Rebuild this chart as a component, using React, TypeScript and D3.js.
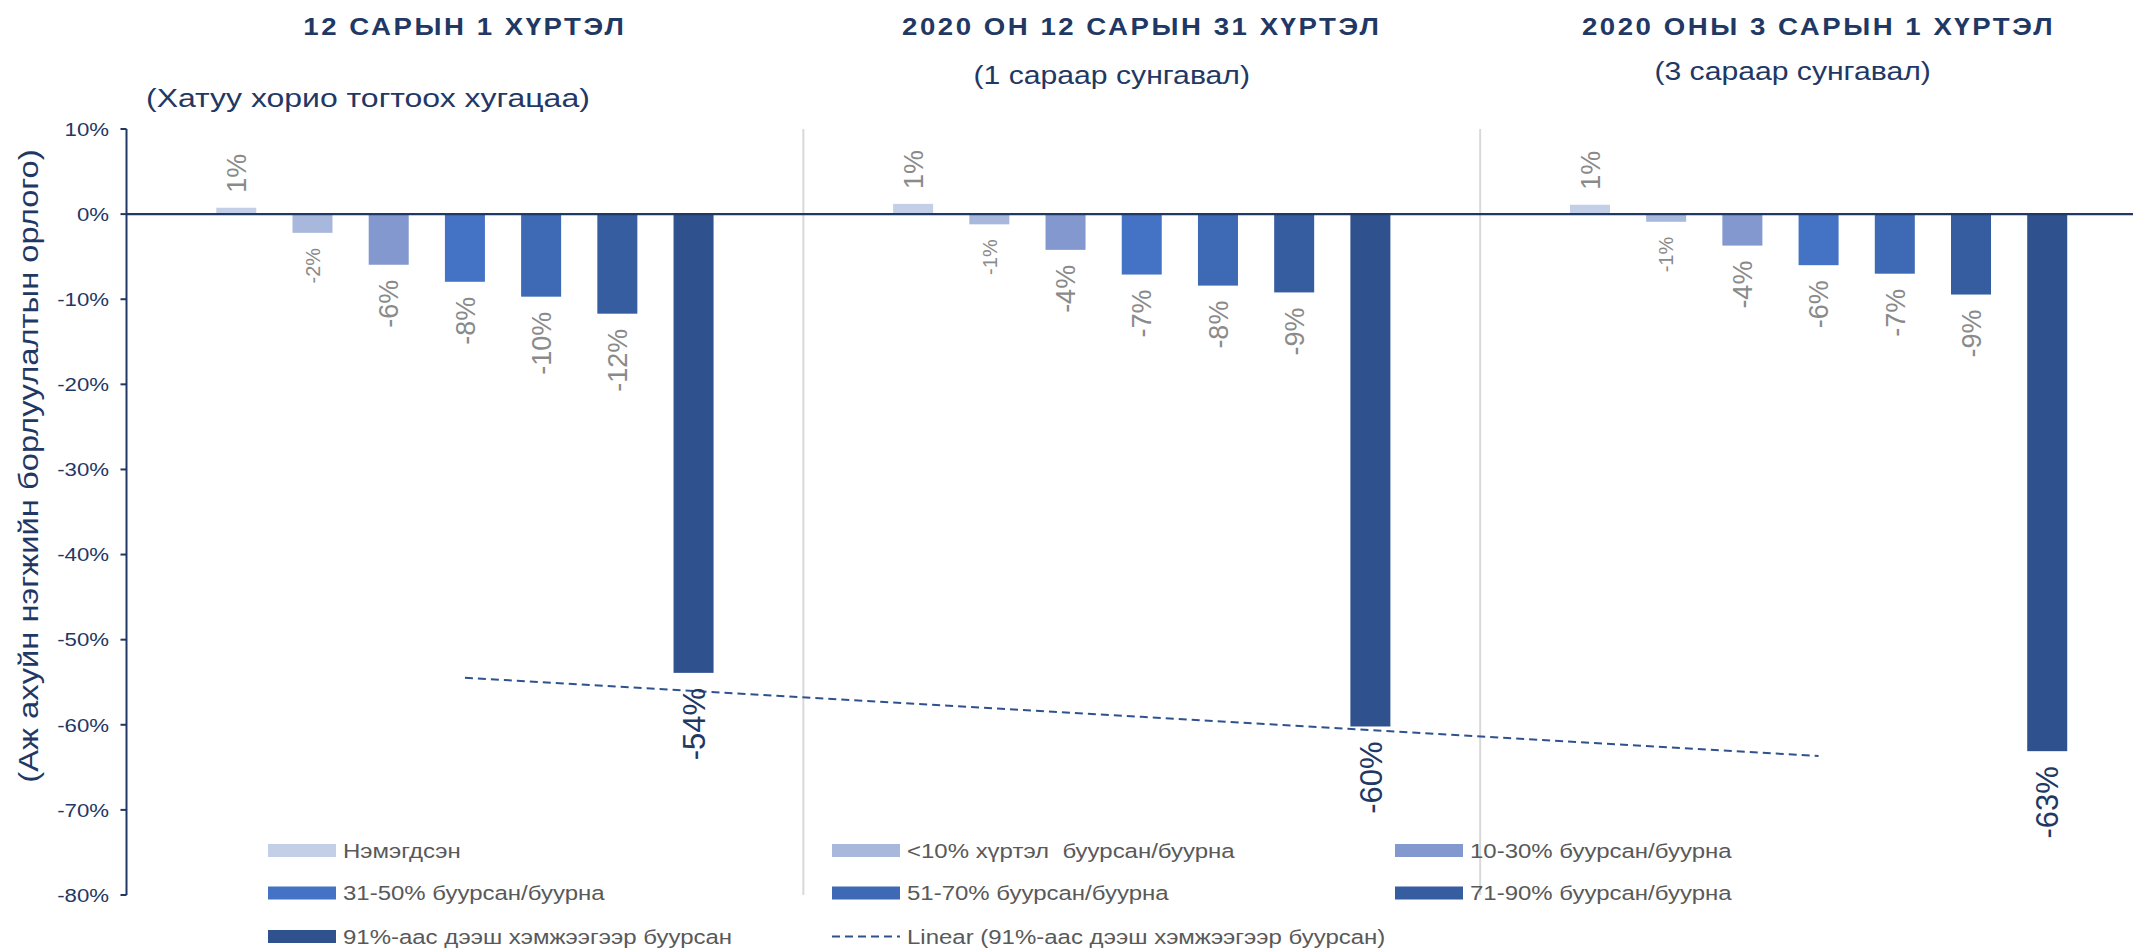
import React from 'react';
import * as d3 from 'd3';

// periods (x categories) and their sub headings
const periods = ['12 САРЫН 1 ХҮРТЭЛ', '2020 ОН 12 САРЫН 31 ХҮРТЭЛ', '2020 ОНЫ 3 САРЫН 1 ХҮРТЭЛ'];
const subtitles = ['(Хатуу хорио тогтоох хугацаа)', '(1 сараар сунгавал)', '(3 сараар сунгавал)'];

// series, one value per period (%)
const seriesNames = [
  'Нэмэгдсэн',
  '<10% хүртэл  буурсан/буурна',
  '10-30% буурсан/буурна',
  '31-50% буурсан/буурна',
  '51-70% буурсан/буурна',
  '71-90% буурсан/буурна',
  '91%-аас дээш хэмжээгээр буурсан',
];
const increased = [0.75, 1.2, 1.1];
const under10 = [-2.2, -1.2, -0.9];
const from10to30 = [-5.95, -4.2, -3.7];
const from31to50 = [-7.95, -7.1, -6.0];
const from51to70 = [-9.7, -8.4, -7.0];
const from71to90 = [-11.7, -9.2, -9.45];
const over91 = [-53.9, -60.2, -63.1];
const seriesValues = [increased, under10, from10to30, from31to50, from51to70, from71to90, over91];
const colors = ['#C3CEE7', '#A8B7DC', '#8298CF', '#4472C4', '#3E69B4', '#365DA0', '#2F528F'];

const yDomain = [-80, 10];
const yTitle = '(Аж ахуйн нэгжийн борлуулалтын орлого)';
const trendLabel = 'Linear (91%-аас дээш хэмжээгээр буурсан)';

const W = 2133;
const H = 950;
const NAVY = '#1F3864';
const FONT = '"Liberation Sans", Arial, sans-serif';
const SX = 1.15; // text in the source is drawn a bit wide

// layout
const left = 126.5;
const right = 2157; // last period is cut off by the picture edge
const top = 129;
const bottom = 895;
// subtitle: x offset from period centre, baseline, stretch
const subPos = [
  [-97, 107, 1.23],
  [-30, 83.5, 1.16],
  [-26, 79.5, 1.16],
];

function SText({ x, y, rotate = 0, sx = SX, children, ...rest }: any) {
  return (
    <g transform={`translate(${x},${y}) rotate(${rotate}) scale(${sx},1)`}>
      <text fontFamily={FONT} style={{ whiteSpace: 'pre' }} {...rest}>
        {children}
      </text>
    </g>
  );
}

export default function App() {
  const x = d3.scaleBand<string>().domain(periods).range([left, right]).padding(0);
  const xs = d3
    .scaleBand<number>()
    .domain(d3.range(seriesNames.length))
    .range([0, x.bandwidth()])
    .paddingInner(0.475)
    .paddingOuter(1.178);
  const y = d3.scaleLinear().domain(yDomain).range([bottom, top]);
  const ticks = y.ticks(10);

  // linear trendline of the last series
  const tx = over91.map((_, i) => i + 1);
  const mx = d3.mean(tx) as number;
  const my = d3.mean(over91) as number;
  const slope =
    d3.sum(tx, (v, i) => (v - mx) * (over91[i] - my)) / d3.sum(tx, (v) => (v - mx) * (v - mx));
  const trendAt = (t: number) => my + slope * (t - mx);
  const cx = (i: number) => (x(periods[i]) as number) + x.bandwidth() / 2;
  const trend = d3
    .line<number>()
    .x((t) => cx(t - 1))
    .y((t) => y(trendAt(t)));

  const legendCols = [268, 832, 1395];
  const legendRows = [850.5, 893, 936.5];
  const legendItems = [
    ...seriesNames.map((n, i) => ({ name: n, color: colors[i], dash: false })),
    { name: trendLabel, color: '#2F528F', dash: true },
  ];

  return (
    <svg width={W} height={H} style={{ position: 'absolute', left: 0, top: 0, background: '#fff' }}>
      {/* period dividers */}
      {periods.slice(1).map((p) => (
        <line key={p} x1={x(p)} x2={x(p)} y1={top} y2={bottom} stroke="#D9D9D9" strokeWidth={2} />
      ))}

      {/* titles */}
      {periods.map((p, i) => (
        <SText key={p} x={cx(i)} y={34.5} textAnchor="middle" fontSize={24} fontWeight="bold" letterSpacing={2.2} fill={NAVY}>
          {p}
        </SText>
      ))}
      {subtitles.map((s, i) => (
        <SText
          key={s}
          x={cx(i) + subPos[i][0]}
          y={subPos[i][1]}
          sx={subPos[i][2]}
          textAnchor="middle"
          fontSize={26}
          fill={NAVY}
        >
          {s}
        </SText>
      ))}

      {/* bars */}
      {seriesValues.map((vals, si) =>
        vals.map((v, gi) => {
          const bx = (x(periods[gi]) as number) + (xs(si) as number);
          return (
            <rect
              key={`${si}-${gi}`}
              x={bx}
              width={xs.bandwidth()}
              y={y(Math.max(0, v))}
              height={Math.abs(y(v) - y(0))}
              fill={colors[si]}
            />
          );
        })
      )}

      {/* zero line */}
      <line x1={left} x2={W} y1={y(0)} y2={y(0)} stroke={NAVY} strokeWidth={2.2} />

      {/* y axis */}
      <line x1={left} x2={left} y1={top} y2={bottom} stroke={NAVY} strokeWidth={2} />
      {ticks.map((t) => (
        <g key={t}>
          <line x1={left - 6} x2={left} y1={y(t)} y2={y(t)} stroke={NAVY} strokeWidth={2} />
          <SText x={109} y={y(t) + 6.8} textAnchor="end" fontSize={19} sx={1.17} fill={NAVY}>
            {`${t}%`}
          </SText>
        </g>
      ))}
      <SText x={38} y={466} rotate={-90} sx={1.17} textAnchor="middle" fontSize={28} fill={NAVY}>
        {yTitle}
      </SText>

      {/* trendline */}
      <path d={trend(tx) as string} fill="none" stroke="#2F528F" strokeWidth={2} strokeDasharray="8 5" />

      {/* data labels */}
      {seriesValues.map((vals, si) =>
        vals.map((v, gi) => {
          const bx = (x(periods[gi]) as number) + (xs(si) as number) + xs.bandwidth() / 2;
          const big = si === seriesNames.length - 1;
          const small = si === 1;
          const fs = big ? 31 : small ? 20 : 27;
          const ly = v >= 0 ? y(v) - 15 : y(v) + 15;
          return (
            <SText
              key={`l${si}-${gi}`}
              x={bx}
              y={ly}
              rotate={-90}
              sx={1}
              dy="0.36em"
              textAnchor={v >= 0 ? 'start' : 'end'}
              fontSize={fs}
              fill={big ? NAVY : '#8A8A8A'}
            >
              {`${Math.round(v)}%`}
            </SText>
          );
        })
      )}

      {/* legend */}
      {legendItems.map((it, i) => {
        const lx = legendCols[i % 3];
        const ly = legendRows[Math.floor(i / 3)];
        return (
          <g key={it.name}>
            {it.dash ? (
              <line x1={lx} x2={lx + 68} y1={ly} y2={ly} stroke={it.color} strokeWidth={2} strokeDasharray="8 5" />
            ) : (
              <rect x={lx} y={ly - 6.5} width={68} height={13} fill={it.color} />
            )}
            <SText x={lx + 75} y={ly + 7.3} fontSize={20.5} sx={1.17} fill="#595959">
              {it.name}
            </SText>
          </g>
        );
      })}
    </svg>
  );
}
